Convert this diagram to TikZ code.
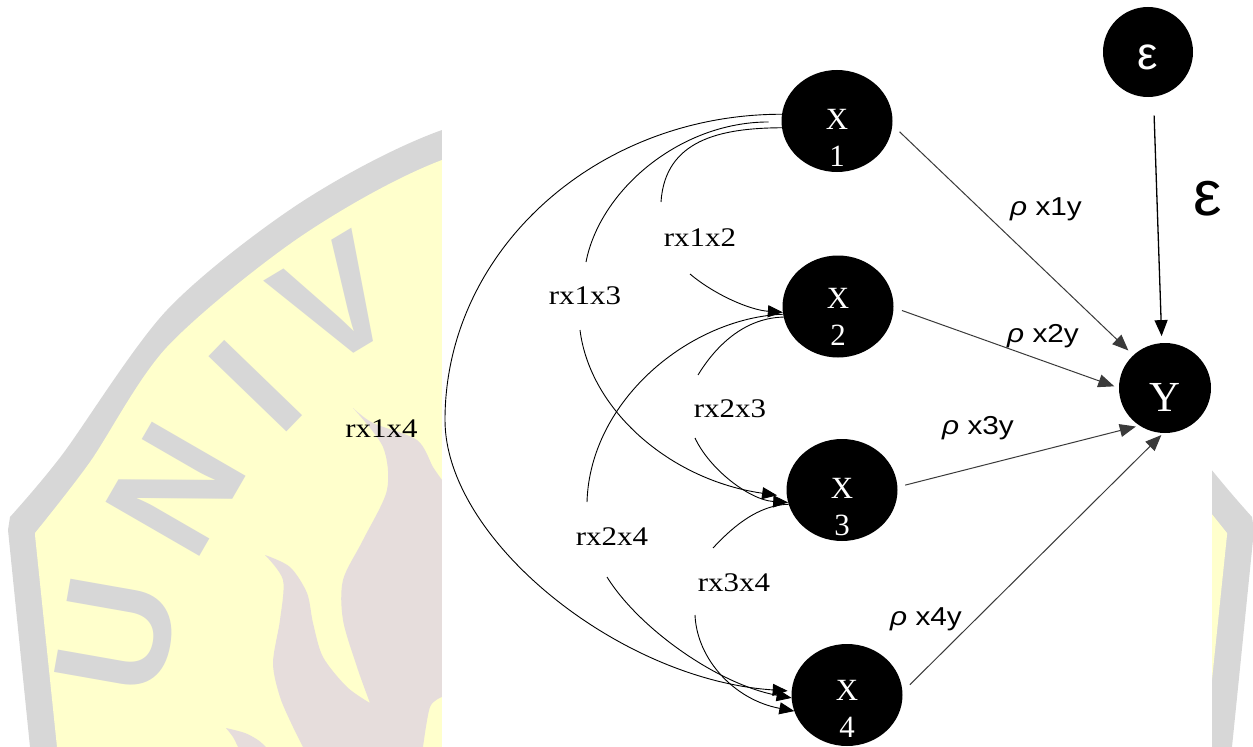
\documentclass[tikz,border=0pt]{standalone}
\usepackage{graphicx}
\usepackage{fontspec}
\setmainfont{Liberation Serif}
\newfontfamily\arialfont{Liberation Sans}
\usetikzlibrary{arrows.meta,shapes.geometric}

\definecolor{wmgray}{HTML}{D7D7D7}
\definecolor{wmyellow}{HTML}{FFFFCC}
\definecolor{wmflame}{HTML}{E6DDDC}
\definecolor{linegray}{HTML}{3A3A3A}

\newcommand{\widetext}[1]{\scalebox{1.15}[1]{#1}}

\begin{document}
\begin{tikzpicture}[x=1bp, y=-1bp,
  var/.style={ellipse, fill=black, inner sep=0pt, outer sep=0pt,
              minimum width=111bp, minimum height=102bp},
  vartext/.style={text=white, font=\fontsize{31}{37}\selectfont,
                  align=center, inner sep=0pt},
  corrlabel/.style={font=\fontsize{27}{32}\selectfont, inner sep=0pt},
  coeflabel/.style={font=\arialfont\fontsize{26}{30}\selectfont, inner sep=0pt},
  corrline/.style={draw=black, line width=0.9bp},
  corrarrow/.style={corrline, -{Triangle[length=15bp,width=12bp]}},
  effect/.style={draw=linegray, line width=1bp,
                 -{Triangle[length=16bp,width=13bp]}},
  wmletter/.style={text=wmgray, font=\arialfont\bfseries\fontsize{158}{160}\selectfont,
                   inner sep=0pt}
]
\useasboundingbox (0,0) rectangle (1253,747);

% ---------- faded emblem in the background ----------
\begin{scope}
  \clip (0,0) rectangle (1253,747);
  % outer grey rim
  \fill[wmgray] (30,747) -- (8,530) --
    plot[smooth, tension=0.5] coordinates {(10,517) (62,455) (167,310) (300,203)
      (442,130) (631,85) (820,130) (962,203) (1095,310) (1200,455) (1252,517)}
    -- (1254,530) -- (1232,747) -- cycle;
  % yellow field
  \fill[wmyellow] (57,747) -- (35,535) --
    plot[smooth, tension=0.5] coordinates {(35,533) (90,462) (167,347) (300,237)
      (442,160) (631,112) (820,160) (962,237) (1095,347) (1172,462) (1227,533)}
    -- (1227,535) -- (1205,747) -- cycle;
  % flames
  \fill[wmflame]
    plot[smooth] coordinates {(303,747) (293,727) (280,697) (273,663) (280,620) (283,580) (265,555)}
    -- plot[smooth] coordinates {(265,555) (290,567) (307,593) (313,623) (323,657) (347,687) (370,703)}
    -- plot[smooth] coordinates {(370,703) (357,667) (343,620) (343,580) (363,540) (387,490) (383,447) (353,408)}
    -- plot[smooth] coordinates {(353,408) (373,423) (417,440) (433,467) (442,480)}
    -- (442,697)
    -- plot[smooth] coordinates {(442,697) (430,707) (423,747)} -- cycle;
  \fill[wmflame]
    plot[smooth] coordinates {(238,747) (233,737) (226,728)}
    -- plot[smooth] coordinates {(226,728) (245,733) (258,740) (266,747)} -- cycle;
  % rim lettering
  \node[wmletter, rotate=80] (wmU) at (117,635) {U};
  \node[wmletter, rotate=60] (wmN) at (176,489) {N};
  \node[wmletter, rotate=46] (wmI) at (256,386) {I};
  \node[wmletter, rotate=31] (wmV) at (336,301) {V};
  % blank panel behind the diagram
  \fill[white] (442,0) rectangle (1212,747);
\end{scope}

% ---------- variables ----------
\node[var] (x1) at (837,121) {};
\node[var] (x2) at (838,306.5) {};
\node[var] (x3) at (842,490) {};
\node[var] (x4) at (847,695) {};
\node[var, minimum width=92bp, minimum height=90bp] (y) at (1165,388) {};
\node[var, minimum width=90bp, minimum height=90bp] (eps) at (1148,52) {};

\node[vartext] (x1t) at ([yshift=-16.75bp]x1.center) {X\\1};
\node[vartext] (x2t) at ([yshift=-10.25bp]x2.center) {X\\2};
\node[vartext] (x3t) at ([yshift=-16.75bp]x3.center) {X\\3};
\node[vartext] (x4t) at ([yshift=-13.75bp]x4.center) {X\\4};
\node[text=white, font=\fontsize{43}{48}\selectfont, inner sep=0pt] (yt)
  at ([yshift=-9bp]y.center) {Y};
\node[text=white, font=\arialfont\fontsize{46}{50}\selectfont, inner sep=0pt] (epst)
  at ([yshift=-5bp]eps.center) {ε};

% ---------- direct effects on Y ----------
\draw[effect, shorten <=10bp, shorten >=7bp] (x1.-4) -- (y.134);
\draw[effect, shorten <=9bp, shorten >=5bp] (x2.-1) -- (y.180);
\draw[effect, shorten <=8bp, shorten >=4bp] (x3.3) -- (y.236);
\draw[effect, shorten <=10.5bp, shorten >=3bp] (x4.3) -- (y.268);
\draw[effect, draw=black, line width=1.3bp, shorten <=19bp, shorten >=7bp] (eps.277) -- (y.94);

\node[coeflabel] (p1) at (1046,209) {\widetext{{\itshape ρ} x1y}};
\node[coeflabel] (p2) at (1043,336.5) {\widetext{{\itshape ρ} x2y}};
\node[coeflabel] (p3) at (978,428) {\widetext{{\itshape ρ} x3y}};
\node[coeflabel] (p4) at (926,619) {\widetext{{\itshape ρ} x4y}};
\node[font=\arialfont\fontsize{64}{70}\selectfont, inner sep=0pt] (epslab) at (1208,199) {ε};

% ---------- correlations between the X variables ----------
\coordinate (c12a) at (661,202);
\coordinate (c12b) at (690,274);
\coordinate (c13a) at (586,262);
\coordinate (c13b) at (580,330);
\coordinate (c14m) at (445,420);
\coordinate (c23a) at (698,375);
\coordinate (c23b) at (695,438);
\coordinate (c24a) at (587,502);
\coordinate (c24b) at (607,577);
\coordinate (c34a) at (713,548);
\coordinate (c34b) at (695,615);

\draw[corrline] (x1.187) .. controls (720,128) and (665,140) .. (c12a);
\draw[corrarrow] (c12b) .. controls (715,295) and (750,310) .. (x2.186);

\draw[corrline, shorten <=13bp] (x1.181) .. controls (680,122) and (600,190) .. (c13a);
\draw[corrarrow, shorten >=10bp] (c13b) .. controls (590,410) and (670,480) .. (x3.187);

\draw[corrarrow, shorten >=4bp] (x1.173) .. controls (596,114) and (445,251) .. (c14m)
  .. controls (445,540) and (620,680) .. (x4.176);

\draw[corrline] (x2.191) .. controls (740,318) and (712,352) .. (c23a);
\draw[corrarrow] (c23b) .. controls (710,470) and (750,500) .. (x3.193);

\draw[corrline] (x2.188) .. controls (690,318) and (590,400) .. (c24a);
\draw[corrarrow] (c24b) .. controls (640,630) and (720,685) .. (x4.183);

\draw[corrline] (x3.195) .. controls (755,505) and (728,532) .. (c34a);
\draw[corrarrow] (c34b) .. controls (697,660) and (735,700) .. (x4.197);

\node[corrlabel] (r12) at (700,237.5) {\widetext{rx1x2}};
\node[corrlabel] (r13) at (585,296) {\widetext{rx1x3}};
\node[corrlabel] (r14) at (381.5,429) {\widetext{rx1x4}};
\node[corrlabel] (r23) at (730,409) {\widetext{rx2x3}};
\node[corrlabel] (r24) at (612,537) {\widetext{rx2x4}};
\node[corrlabel] (r34) at (734,583) {\widetext{rx3x4}};
\end{tikzpicture}
\end{document}
